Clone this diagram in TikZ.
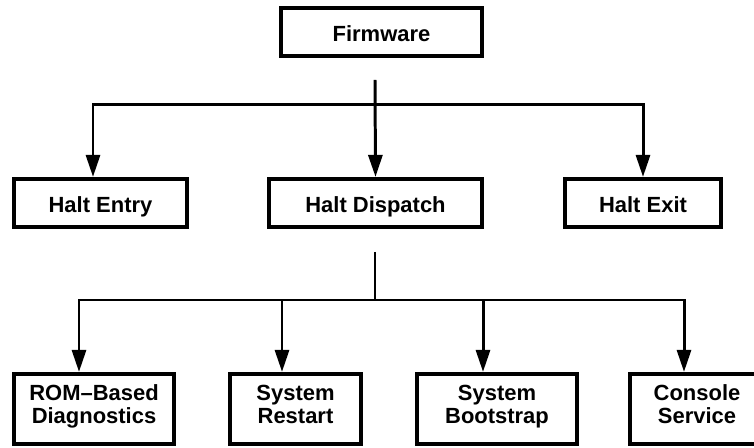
\documentclass[tikz,border=0pt]{standalone}
\usepackage{fontspec}
\setmainfont{Liberation Sans}
\usetikzlibrary{arrows.meta}

\begin{document}
\begin{tikzpicture}[x=0.02cm,y=-0.02cm,font=\fontsize{12.5}{13}\selectfont\bfseries,
  b/.style={draw,line width=2.4pt,inner sep=0pt,minimum height=0.96cm,align=center,
            text height=12.7pt,text depth=2.4pt},
  bb/.style={b,minimum height=1.4cm,text height=19pt},
  ln/.style={line width=1.7pt},
  ar/.style={ln,-{Triangle[length=0.44cm,width=0.28cm]}}]
\clip (0,0) rectangle (754,448);
\node[b,minimum width=4.02cm] (fw)   at (381.5,32) {Firmware};
\node[b,minimum width=3.46cm] (entry) at (100.5,203) {Halt Entry};
\node[b,minimum width=4.26cm] (disp) at (375.5,203) {Halt Dispatch};
\node[b,minimum width=3.12cm] (exit) at (643,203)   {Halt Exit};

\node[bb,minimum width=3.2cm]  (rom)  at (94,409)    {ROM--Based\\Diagnostics};
\node[bb,minimum width=2.62cm] (rst)  at (295.5,409) {System\\Restart};
\node[bb,minimum width=3.2cm]  (boot) at (497,409)   {System\\Bootstrap};
\node[bb,minimum width=2.68cm] (cons) at (697,409)   {Console\\Service};

\coordinate (t1) at (375,80);
\coordinate (j1) at (375,105);
\coordinate (t2) at (375,252);
\coordinate (j2) at (375,300);

\draw[ar] (t1) -- (disp.north);
\draw[ar] (j1) -| ([xshift=-0.15cm]entry.north);
\draw[ar] (j1) -| (exit.north);

\draw[ln] (t2) -- (j2);
\draw[ar] (j2) -| ([xshift=-0.3cm]rom.north);
\draw[ar] (j2) -| ([xshift=-0.27cm]rst.north);
\draw[ar] (j2) -| ([xshift=-0.28cm]boot.north);
\draw[ar] (j2) -| ([xshift=-0.26cm]cons.north);
\end{tikzpicture}
\end{document}
